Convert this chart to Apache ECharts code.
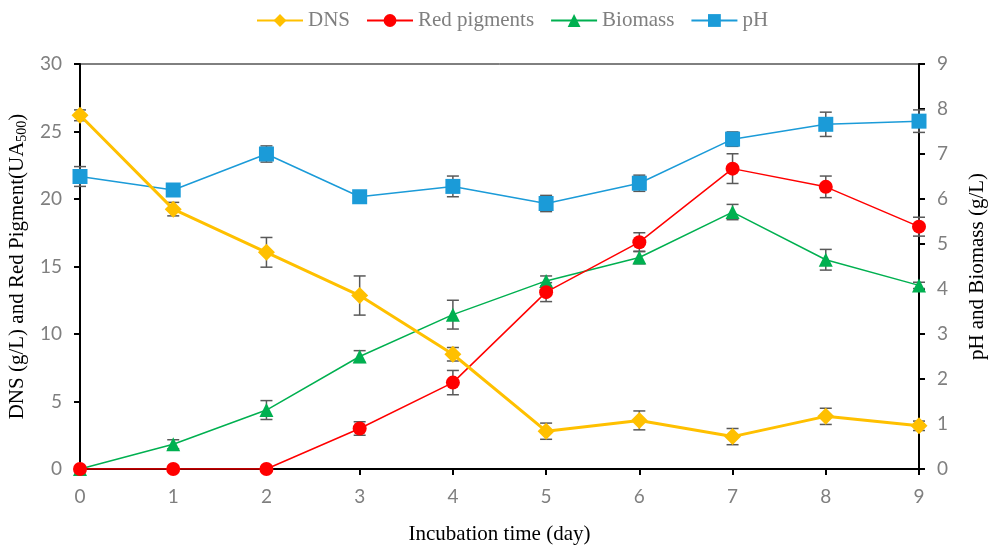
<!DOCTYPE html>
<html lang="en">
<head>
    <meta charset="UTF-8">
    <title>DNS, red pigments, biomass and pH</title>
    <style>
        html, body { margin: 0; padding: 0; background: #fff; }
        #main { width: 990px; height: 545px; }
    </style>
    <script src="https://cdn.jsdelivr.net/npm/echarts@6/dist/echarts.min.js"></script>
</head>
<body>
    <div id="main"></div>
    <script>
        // incubation day
        let days = [0, 1, 2, 3, 4, 5, 6, 7, 8, 9];
        // left axis
        let dns = [26.2, 19.25, 16.05, 12.85, 8.5, 2.8, 3.6, 2.4, 3.9, 3.2];
        let dnsErr = [0.4, 0.5, 1.1, 1.45, 0.5, 0.6, 0.7, 0.6, 0.6, 0.35];
        let red = [0, 0, 0, 3.0, 6.4, 13.1, 16.8, 22.25, 20.9, 17.95];
        let redErr = [0, 0, 0, 0.5, 0.9, 0.7, 0.7, 1.1, 0.8, 0.7];
        // right axis
        let biomass = [0, 0.55, 1.31, 2.5, 3.43, 4.18, 4.7, 5.71, 4.65, 4.08];
        let biomassErr = [0, 0.1, 0.21, 0.13, 0.32, 0.11, 0.14, 0.17, 0.23, 0.07];
        let ph = [6.5, 6.2, 7.0, 6.05, 6.28, 5.9, 6.35, 7.33, 7.66, 7.73];
        let phErr = [0.22, 0.04, 0.18, 0.04, 0.23, 0.18, 0.18, 0.16, 0.27, 0.25];

        let leftTicks = [0, 5, 10, 15, 20, 25, 30];
        let rightTicks = [0, 1, 2, 3, 4, 5, 6, 7, 8, 9];

        function errData(vals, errs) {
            let out = [];
            for (let i = 0; i < vals.length; i++) {
                if (errs[i] > 0) out.push([days[i], vals[i] - errs[i], vals[i] + errs[i]]);
            }
            return out;
        }

        function drawErr(params, api) {
            let x = api.value(0);
            let lo = api.coord([x, api.value(1)]);
            let hi = api.coord([x, api.value(2)]);
            let w = 6;
            let st = { stroke: '#595959', lineWidth: 1.5 };
            return {
                type: 'group',
                children: [
                    { type: 'line', shape: { x1: lo[0], y1: lo[1], x2: hi[0], y2: hi[1] }, style: st },
                    { type: 'line', shape: { x1: lo[0] - w, y1: lo[1], x2: lo[0] + w, y2: lo[1] }, style: st },
                    { type: 'line', shape: { x1: hi[0] - w, y1: hi[1], x2: hi[0] + w, y2: hi[1] }, style: st }
                ]
            };
        }

        function pairs(vals) {
            return days.map(function (d, i) { return [d, vals[i]]; });
        }

        function errSeries(vals, errs, yIdx) {
            return {
                type: 'custom',
                yAxisIndex: yIdx,
                renderItem: drawErr,
                encode: { x: 0, y: [1, 2] },
                data: errData(vals, errs),
                z: 1,
                silent: true
            };
        }

        let tickFont = { color: '#7f7f7f', fontFamily: 'Lato', fontSize: 19 };
        let nameFont = { color: '#000', fontFamily: 'Liberation Serif', fontSize: 21 };

        let chartDom = document.getElementById('main');
        let myChart = echarts.init(chartDom);
        let option = {
            animation: false,
            backgroundColor: '#fff',
            legend: {
                top: 5,
                left: 251,
                itemWidth: 46,
                itemHeight: 16,
                itemGap: 16,
                data: ['DNS', 'Red pigments', 'Biomass', 'pH'],
                textStyle: { color: '#7f7f7f', fontFamily: 'Liberation Serif', fontSize: 21 }
            },
            grid: {
                left: 80, right: 71, top: 64, bottom: 76,
                outerBoundsMode: 'none',
                show: true, borderColor: '#000', borderWidth: 1
            },
            xAxis: {
                type: 'value',
                min: 0, max: 9, interval: 1,
                name: 'Incubation time (day)',
                nameLocation: 'middle',
                nameGap: 55,
                nameTextStyle: nameFont,
                axisLine: { lineStyle: { color: '#000', width: 2 } },
                axisTick: { length: 6, lineStyle: { color: '#000', width: 2 } },
                axisLabel: Object.assign({ margin: 18 }, tickFont),
                splitLine: { show: false }
            },
            yAxis: [{
                type: 'value',
                min: leftTicks[0], max: leftTicks[leftTicks.length - 1], interval: 5,
                name: '{a|DNS (g/L) and Red Pigment(UA}{s|500}{a|)}',
                nameLocation: 'middle',
                nameGap: 50,
                nameRotate: 90,
                nameTextStyle: {
                    rich: {
                        a: nameFont,
                        s: { color: '#000', fontFamily: 'Liberation Serif', fontSize: 14, padding: [9, 0, 0, 0] }
                    }
                },
                axisLine: { show: true, lineStyle: { color: '#000', width: 2 } },
                axisTick: { show: true, length: 6, lineStyle: { color: '#000', width: 2 } },
                axisLabel: Object.assign({ margin: 18 }, tickFont),
                splitLine: { show: false }
            }, {
                type: 'value',
                min: rightTicks[0], max: rightTicks[rightTicks.length - 1], interval: 1,
                position: 'right',
                name: 'pH and Biomass (g/L)',
                nameLocation: 'middle',
                nameGap: 48,
                nameRotate: 90,
                nameTextStyle: nameFont,
                axisLine: { show: true, lineStyle: { color: '#000', width: 2 } },
                axisTick: { show: true, length: 6, lineStyle: { color: '#000', width: 2 } },
                axisLabel: Object.assign({ margin: 18 }, tickFont),
                splitLine: { show: false }
            }],
            series: [
                errSeries(dns, dnsErr, 0),
                errSeries(red, redErr, 0),
                errSeries(biomass, biomassErr, 1),
                errSeries(ph, phErr, 1),
                {
                    name: 'pH', type: 'line', yAxisIndex: 1,
                    data: pairs(ph),
                    symbol: 'rect', symbolSize: 15,
                    lineStyle: { color: '#1b9bd8', width: 1.5 },
                    itemStyle: { color: '#1b9bd8' },
                    z: 2
                },
                {
                    name: 'Biomass', type: 'line', yAxisIndex: 1,
                    data: pairs(biomass),
                    symbol: 'triangle', symbolSize: 14,
                    lineStyle: { color: '#00b050', width: 1.5 },
                    itemStyle: { color: '#00b050' },
                    z: 3
                },
                {
                    name: 'Red pigments', type: 'line', yAxisIndex: 0,
                    data: pairs(red),
                    symbol: 'circle', symbolSize: 14,
                    lineStyle: { color: '#ff0000', width: 1.5 },
                    itemStyle: { color: '#ff0000' },
                    z: 4
                },
                {
                    name: 'DNS', type: 'line', yAxisIndex: 0,
                    data: pairs(dns),
                    symbol: 'diamond', symbolSize: 17,
                    lineStyle: { color: '#ffc000', width: 3 },
                    itemStyle: { color: '#ffc000' },
                    z: 5
                }
            ]
        };
        option && myChart.setOption(option);
    </script>
</body>
</html>
